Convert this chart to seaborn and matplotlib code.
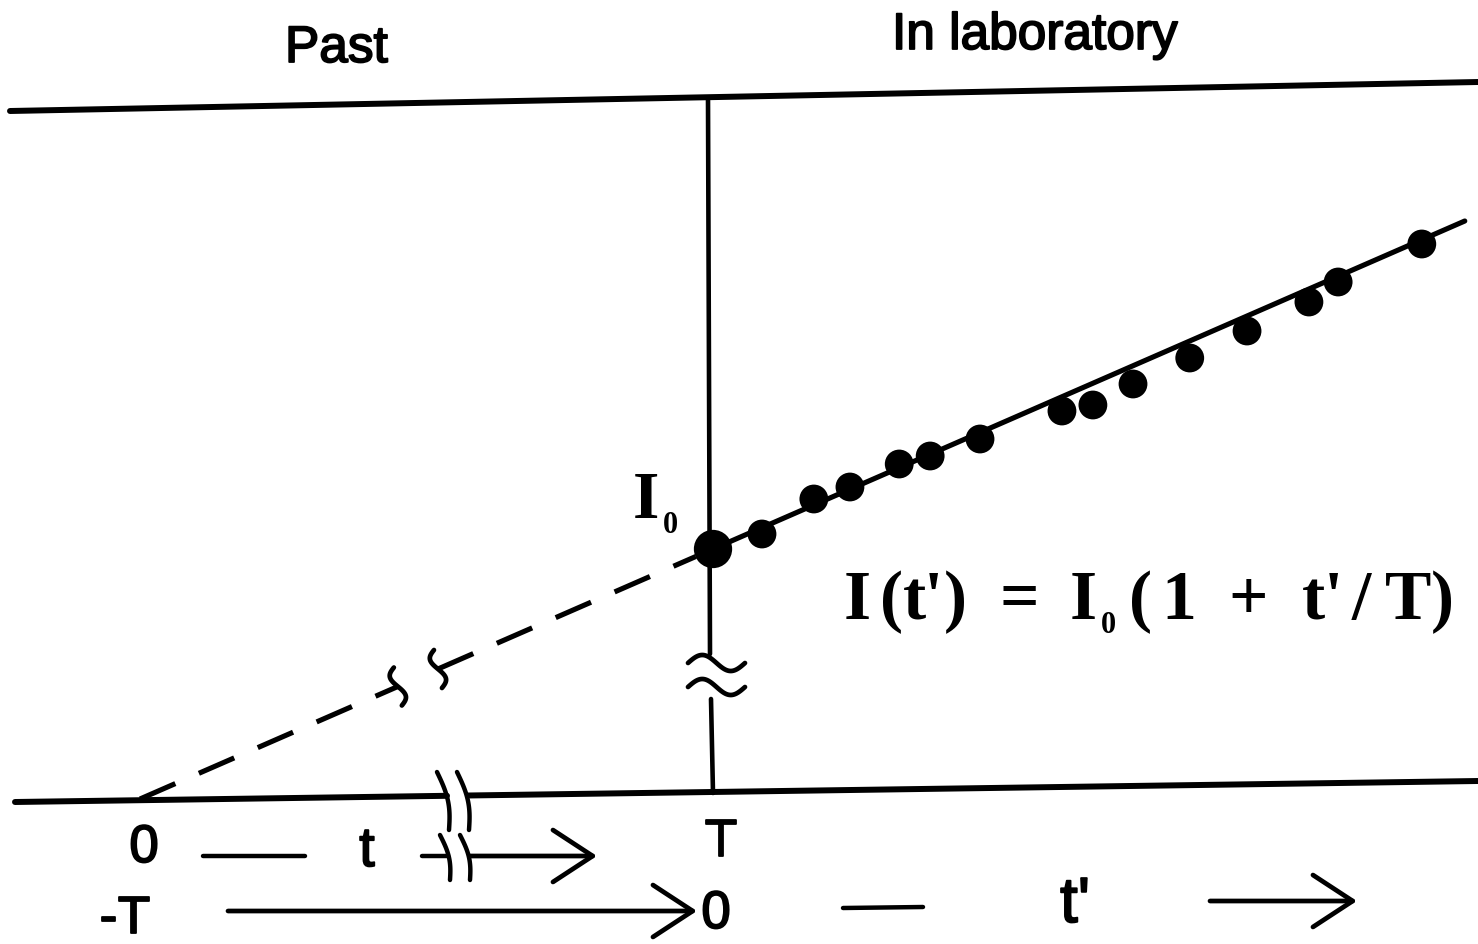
import numpy as np
import pandas as pd
import matplotlib
matplotlib.use("Agg")
import matplotlib.pyplot as plt
import matplotlib.patheffects as pe
import seaborn as sns

# ---------------- data (t' in units of T, I in units of I0) ----------------
t_lab = [0.0, 0.0855, 0.176, 0.239, 0.325, 0.379, 0.466, 0.609, 0.663,
         0.733, 0.832, 0.932, 1.040, 1.091, 1.237]
I_lab = [1.0, 1.06, 1.20, 1.248, 1.34, 1.372, 1.44, 1.552, 1.576,
         1.66, 1.764, 1.872, 1.988, 2.068, 2.22]
fit_t = [0.0, 1.312]          # fitted line I = I0 (1 + t'/T)
extrap_t = [-1.0, -0.03]      # dashed extrapolation into the past

section_labels = ["Past", "In laboratory"]
eq_chars = ["I", "(", "t", "'", ")", "=", "I", "(", "1", "+", "t", "'", "/", "T", ")"]
eq_centers = [857, 892, 914, 933, 955, 1019, 1083, 1141, 1179, 1248, 1313, 1333, 1361, 1408, 1442]
eq_sub = "0"

# ---------------- figure ----------------
sns.set_theme(style="white")
plt.rcParams["font.family"] = ["Liberation Sans", "DejaVu Sans"]

W, H = 1478, 945
fig = plt.figure(figsize=(W / 100, H / 100), dpi=100)
fig.patch.set_facecolor("white")

# data axes: x = t'/T, y = I/I0 ; px = 713 + 573*x ; py = 800 - 250*y
ax = fig.add_axes([0, 0, 1, 1])
ax.set_xlim((0 - 713) / 573, (W - 713) / 573)
ax.set_ylim((800 - H) / 250, 800 / 250)
ax.axis("off")

# annotation overlay in pixel coordinates
an = fig.add_axes([0, 0, 1, 1])
an.set_xlim(0, W)
an.set_ylim(H, 0)
an.axis("off")
an.patch.set_alpha(0)

K = "black"
heavy = [pe.withStroke(linewidth=1.3, foreground=K)]
sans = ["Liberation Sans", "DejaVu Sans"]
serif = ["Liberation Serif", "DejaVu Serif"]

# ---- frame lines (slightly tilted like the scan) ----
def tilt_line(x0, y0, x1, y1, **kw):
    an.plot([x0, x1], [y0, y1], color=K, solid_capstyle="round", **kw)

tilt_line(10, 112, W, 83, lw=4.3)

def base_y(x):
    return 803 + (782 - 803) * (x - 15) / (W - 15)
tilt_line(15, base_y(15), 447, base_y(447), lw=4.3)
tilt_line(468, base_y(468), W, base_y(W), lw=4.3)

# vertical line at T, with "≈" break
an.plot([708, 710], [100, 655], color=K, lw=3.3)
an.plot([711, 713], [700, 794], color=K, lw=3.3)
u = np.linspace(0, 1, 60)
for yc in (664, 688):
    an.plot(688 + 57 * u, yc - 8 * np.sin(2 * np.pi * u), color=K, lw=3.4,
            solid_capstyle="round")

# ---- data: fitted line, dashed extrapolation, points ----
df_fit = pd.DataFrame({"t": fit_t, "I": [1 + v for v in fit_t]})
sns.lineplot(data=df_fit, x="t", y="I", ax=ax, color=K, lw=3.7,
             estimator=None, sort=False, legend=False)

ext_x = np.array(extrap_t)
gap_lo, gap_hi = -0.55, -0.48
for a, b in ((ext_x[0], gap_lo), (gap_hi, ext_x[1])):
    seg = pd.DataFrame({"t": [a, b]})
    seg["I"] = 1 + seg["t"]
    ax.plot(seg["t"], seg["I"], color=K, lw=3.7, dashes=(7.5, 5.0))

# squiggle break marks across the dashed line
for xc in (gap_lo, gap_hi):
    px = 713 + 573 * xc
    py = 800 - 250 * (1 + xc)
    v = np.linspace(-1, 1, 40)
    an.plot(px + 6 * np.sin(np.pi * v) + 4 * v, py + 19 * v, color=K, lw=3.4,
            solid_capstyle="round")

df_pts = pd.DataFrame({"t": t_lab, "I": I_lab})
sizes = [760] + [430] * (len(t_lab) - 1)
sns.scatterplot(data=df_pts, x="t", y="I", ax=ax, color=K, s=sizes,
                edgecolor=K, linewidth=0, legend=False, zorder=5)

# ---- header labels ----
an.text(285, 63, section_labels[0], fontsize=37, ha="left", va="baseline",
        color=K, family=sans, path_effects=heavy)
an.text(892, 50, section_labels[1], fontsize=37, ha="left", va="baseline",
        color=K, family=sans, path_effects=heavy)

# ---- I0 label ----
an.text(633, 518, "I", fontsize=49, fontweight="bold", family=serif,
        ha="left", va="baseline", color=K)
an.text(663, 533, "0", fontsize=22, fontweight="bold", family=serif,
        ha="left", va="baseline", color=K)

# ---- equation, letter-spaced glyphs ----
eq_y = 619
for ch, xc in zip(eq_chars, eq_centers):
    an.text(xc, eq_y, ch, fontsize=50, fontweight="bold", family=serif,
            ha="center", va="baseline", color=K)
an.text(1108, eq_y + 14, eq_sub, fontsize=22, fontweight="bold", family=serif,
        ha="center", va="baseline", color=K)

# ---- bottom scale labels ----
def lab(x, y, s, size=36):
    an.text(x, y, s, fontsize=size, ha="center", va="baseline", color=K,
            family=sans, path_effects=heavy)

lab(144, 863, "0", 38)
lab(367, 867, "t", 40)
lab(721, 857, "T", 38)
lab(125, 934, "-T", 38)
lab(716, 929, "0", 38)
lab(1075, 923, "t'", 46)

# dashes and arrows
an.plot([203, 305], [857, 857], color=K, lw=3.2)
an.plot([843, 923], [909, 908], color=K, lw=3.2)
an.plot([422, 448], [857, 857], color=K, lw=3.2)

def arrow(x0, x1, y):
    an.annotate("", xy=(x1, y), xytext=(x0, y),
                arrowprops=dict(arrowstyle="->,head_length=1.3,head_width=0.85",
                                lw=3.4, color=K, mutation_scale=22,
                                shrinkA=0, shrinkB=0))

arrow(470, 597, 857)
arrow(228, 697, 912)
arrow(1210, 1357, 902)

# "))" break marks on baseline and on the first arrow row
v = np.linspace(0, 1, 40)
for xc in (437, 457):
    an.plot(xc + 12 * v + 5 * np.sin(np.pi * v), 773 + 58 * v, color=K, lw=3.2,
            solid_capstyle="round")
    an.plot(xc + 3 + 10 * v + 4 * np.sin(np.pi * v), 836 + 45 * v, color=K, lw=3.2,
            solid_capstyle="round")

fig.savefig("out.png", dpi=100, facecolor="white")
